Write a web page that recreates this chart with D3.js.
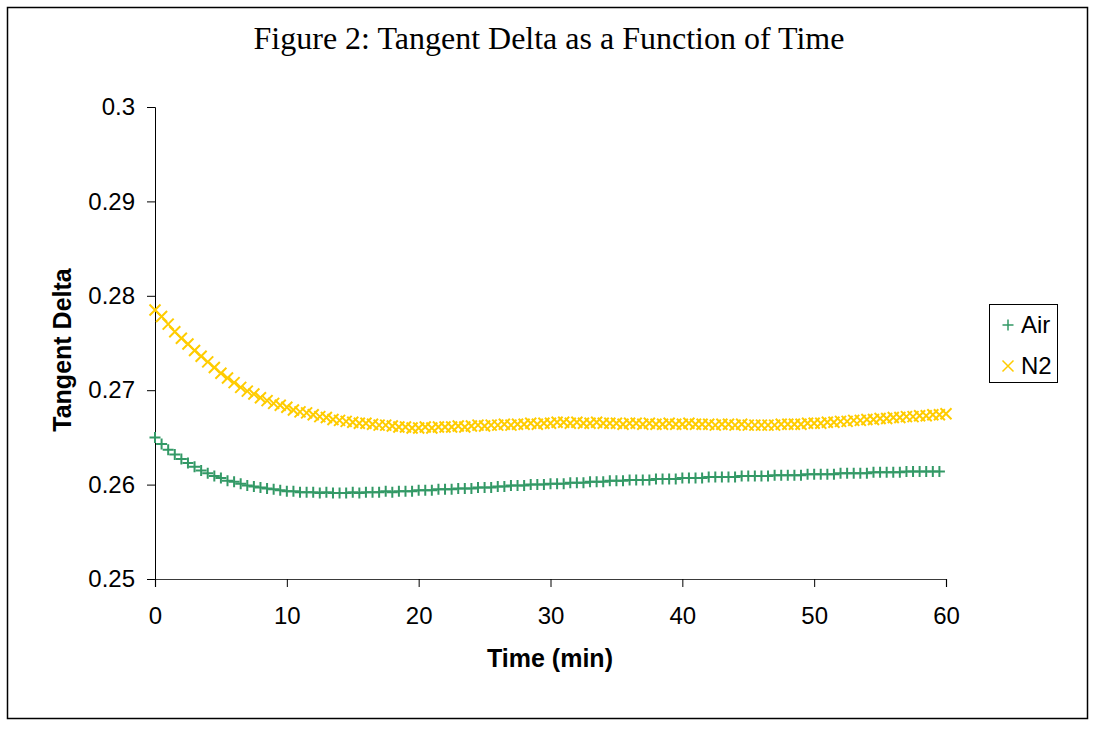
<!DOCTYPE html>
<html>
<head>
<meta charset="utf-8">
<script src="https://cdn.jsdelivr.net/npm/d3@7"></script>
<style>
  html, body { margin: 0; padding: 0; background: #ffffff; }
  svg { display: block; }
</style>
</head>
<body>
<svg id="chart" width="1095" height="729"></svg>
<script>
// Tangent delta readings (minutes vs. tan δ) for the two atmospheres
const airTime = [
  0, 0.5, 1, 1.5, 2, 2.5, 3, 3.5, 4, 4.5, 5, 5.5, 6, 6.5, 7, 7.5, 8, 8.5, 9, 9.5,
  10, 10.5, 11, 11.5, 12, 12.5, 13, 13.5, 14, 14.5, 15, 15.5, 16, 16.5, 17, 17.5, 18, 18.5, 19, 19.5,
  20, 20.5, 21, 21.5, 22, 22.5, 23, 23.5, 24, 24.5, 25, 25.5, 26, 26.5, 27, 27.5, 28, 28.5, 29, 29.5,
  30, 30.5, 31, 31.5, 32, 32.5, 33, 33.5, 34, 34.5, 35, 35.5, 36, 36.5, 37, 37.5, 38, 38.5, 39, 39.5,
  40, 40.5, 41, 41.5, 42, 42.5, 43, 43.5, 44, 44.5, 45, 45.5, 46, 46.5, 47, 47.5, 48, 48.5, 49, 49.5,
  50, 50.5, 51, 51.5, 52, 52.5, 53, 53.5, 54, 54.5, 55, 55.5, 56, 56.5, 57, 57.5, 58, 58.5, 59, 59.5
];
const airTanDelta = [
  0.2650, 0.2643, 0.2637, 0.2632, 0.2627, 0.2623, 0.2619, 0.2615, 0.2612, 0.2609,
  0.2607, 0.2604, 0.2603, 0.2601, 0.2599, 0.2598, 0.2597, 0.2596, 0.2595, 0.2594,
  0.2593, 0.2593, 0.2592, 0.2592, 0.2592, 0.2591, 0.2592, 0.2591, 0.2591, 0.2591,
  0.2592, 0.2591, 0.2592, 0.2592, 0.2592, 0.2593, 0.2592, 0.2593, 0.2593, 0.2593,
  0.2594, 0.2594, 0.2594, 0.2595, 0.2595, 0.2595, 0.2596, 0.2596, 0.2596, 0.2597,
  0.2597, 0.2597, 0.2598, 0.2598, 0.2599, 0.2599, 0.2599, 0.2600, 0.2600, 0.2600,
  0.2601, 0.2601, 0.2601, 0.2602, 0.2602, 0.2602, 0.2603, 0.2603, 0.2603, 0.2604,
  0.2604, 0.2604, 0.2605, 0.2605, 0.2605, 0.2605, 0.2606, 0.2606, 0.2606, 0.2606,
  0.2607, 0.2607, 0.2607, 0.2607, 0.2608, 0.2608, 0.2608, 0.2608, 0.2608, 0.2609,
  0.2609, 0.2609, 0.2609, 0.2609, 0.2610, 0.2610, 0.2610, 0.2610, 0.2610, 0.2611,
  0.2611, 0.2611, 0.2611, 0.2611, 0.2612, 0.2612, 0.2612, 0.2612, 0.2612, 0.2613,
  0.2613, 0.2613, 0.2613, 0.2613, 0.2614, 0.2614, 0.2614, 0.2614, 0.2614, 0.2614
];

const n2Time = [
  0, 0.5, 1, 1.5, 2, 2.5, 3, 3.5, 4, 4.5, 5, 5.5, 6, 6.5, 7, 7.5, 8, 8.5, 9, 9.5,
  10, 10.5, 11, 11.5, 12, 12.5, 13, 13.5, 14, 14.5, 15, 15.5, 16, 16.5, 17, 17.5, 18, 18.5, 19, 19.5,
  20, 20.5, 21, 21.5, 22, 22.5, 23, 23.5, 24, 24.5, 25, 25.5, 26, 26.5, 27, 27.5, 28, 28.5, 29, 29.5,
  30, 30.5, 31, 31.5, 32, 32.5, 33, 33.5, 34, 34.5, 35, 35.5, 36, 36.5, 37, 37.5, 38, 38.5, 39, 39.5,
  40, 40.5, 41, 41.5, 42, 42.5, 43, 43.5, 44, 44.5, 45, 45.5, 46, 46.5, 47, 47.5, 48, 48.5, 49, 49.5,
  50, 50.5, 51, 51.5, 52, 52.5, 53, 53.5, 54, 54.5, 55, 55.5, 56, 56.5, 57, 57.5, 58, 58.5, 59, 59.5, 60
];
const n2TanDelta = [
  0.2785, 0.2778, 0.2770, 0.2762, 0.2755, 0.2749, 0.2742, 0.2736, 0.2730, 0.2724,
  0.2718, 0.2713, 0.2708, 0.2703, 0.2699, 0.2696, 0.2692, 0.2689, 0.2686, 0.2684,
  0.2682, 0.2679, 0.2677, 0.2676, 0.2674, 0.2672, 0.2671, 0.2669, 0.2668, 0.2667,
  0.2666, 0.2665, 0.2665, 0.2664, 0.2663, 0.2663, 0.2662, 0.2661, 0.2661, 0.2660,
  0.2660, 0.2661, 0.2660, 0.2661, 0.2661, 0.2661, 0.2662, 0.2661, 0.2662, 0.2663,
  0.2662, 0.2663, 0.2663, 0.2664, 0.2663, 0.2664, 0.2664, 0.2665, 0.2664, 0.2665,
  0.2665, 0.2666, 0.2666, 0.2665, 0.2666, 0.2665, 0.2665, 0.2666, 0.2665, 0.2665,
  0.2665, 0.2664, 0.2665, 0.2665, 0.2664, 0.2665, 0.2664, 0.2664, 0.2665, 0.2664,
  0.2664, 0.2665, 0.2664, 0.2664, 0.2664, 0.2663, 0.2664, 0.2664, 0.2663, 0.2664,
  0.2663, 0.2663, 0.2663, 0.2663, 0.2663, 0.2664, 0.2664, 0.2664, 0.2664, 0.2665,
  0.2665, 0.2665, 0.2666, 0.2666, 0.2667, 0.2667, 0.2668, 0.2668, 0.2669, 0.2669,
  0.2670, 0.2670, 0.2671, 0.2671, 0.2672, 0.2672, 0.2673, 0.2673, 0.2674, 0.2674, 0.2675
];

const xTicks = [0, 10, 20, 30, 40, 50, 60];
const yTicks = [0.25, 0.26, 0.27, 0.28, 0.29, 0.3];
const seriesNames = ["Air", "N2"];
const seriesColors = ["#339966", "#FFCC00"];

const svg = d3.select("#chart");

// outer frame
svg.append("rect")
  .attr("x", 7.5).attr("y", 7.5)
  .attr("width", 1080).attr("height", 711)
  .attr("fill", "#ffffff").attr("stroke", "#000000").attr("stroke-width", 1.5);

// title
svg.append("text")
  .attr("x", 549).attr("y", 49)
  .attr("text-anchor", "middle")
  .attr("font-family", "'Liberation Serif', 'Times New Roman', serif")
  .attr("font-size", 32)
  .attr("fill", "#000")
  .text("Figure 2: Tangent Delta as a Function of Time");

const plot = { left: 155, right: 946, top: 107, bottom: 579 };

const x = d3.scaleLinear().domain([0, 60]).range([plot.left, plot.right]);
const y = d3.scaleLinear().domain([0.25, 0.3]).range([plot.bottom, plot.top]);

const axisFont = "'Liberation Sans', Arial, sans-serif";

// y axis
const yAxis = svg.append("g")
  .attr("transform", `translate(${plot.left},0)`)
  .call(d3.axisLeft(y).tickValues(yTicks).tickSize(8).tickPadding(12)
    .tickFormat(d => String(+d.toFixed(2))));
yAxis.select(".domain").attr("stroke", "#000").attr("stroke-width", 1);
yAxis.selectAll(".tick line").attr("stroke", "#000");
yAxis.selectAll(".tick text")
  .attr("font-family", axisFont).attr("font-size", 24).attr("fill", "#000");

// x axis
const xAxis = svg.append("g")
  .attr("transform", `translate(0,${plot.bottom})`)
  .call(d3.axisBottom(x).tickValues(xTicks).tickSize(8).tickPadding(20));
xAxis.select(".domain").attr("stroke", "#3a3a3a").attr("stroke-width", 1.2);
xAxis.selectAll(".tick line").attr("stroke", "#000");
xAxis.selectAll(".tick text")
  .attr("font-family", axisFont).attr("font-size", 24).attr("fill", "#000");

// axis titles
svg.append("text")
  .attr("x", 550).attr("y", 667)
  .attr("text-anchor", "middle")
  .attr("font-family", axisFont).attr("font-size", 25).attr("font-weight", "bold")
  .text("Time (min)");

svg.append("text")
  .attr("transform", `translate(71,350) rotate(-90)`)
  .attr("text-anchor", "middle")
  .attr("font-family", axisFont).attr("font-size", 25).attr("font-weight", "bold")
  .text("Tangent Delta");

// marker shapes
const plusPath = (s) => `M${-s},0H${s}M0,${-s}V${s}`;
const crossPath = (s) => `M${-s},${-s}L${s},${s}M${-s},${s}L${s},${-s}`;

const airData = airTime.map((t, i) => ({ t, v: airTanDelta[i] }));
const n2Data = n2Time.map((t, i) => ({ t, v: n2TanDelta[i] }));

svg.append("g").selectAll("path")
  .data(airData).join("path")
  .attr("transform", d => `translate(${x(d.t)},${y(d.v)})`)
  .attr("d", plusPath(5.5))
  .attr("stroke", seriesColors[0]).attr("stroke-width", 2).attr("fill", "none");

svg.append("g").selectAll("path")
  .data(n2Data).join("path")
  .attr("transform", d => `translate(${x(d.t)},${y(d.v)})`)
  .attr("d", crossPath(5.5))
  .attr("stroke", seriesColors[1]).attr("stroke-width", 2).attr("fill", "none");

// legend
const legend = svg.append("g");
legend.append("rect")
  .attr("x", 989.5).attr("y", 304.5).attr("width", 68).attr("height", 78)
  .attr("fill", "#fff").attr("stroke", "#000").attr("stroke-width", 1);
const legendMarkers = [plusPath(5.5), crossPath(5.5)];
seriesNames.forEach((name, i) => {
  const cy = 325 + i * 41;
  legend.append("path")
    .attr("transform", `translate(1008,${cy})`)
    .attr("d", legendMarkers[i])
    .attr("stroke", seriesColors[i]).attr("stroke-width", 1.5).attr("fill", "none");
  legend.append("text")
    .attr("x", 1021).attr("y", cy + 8)
    .attr("font-family", axisFont).attr("font-size", 24).attr("fill", "#000")
    .text(name);
});
</script>
</body>
</html>
